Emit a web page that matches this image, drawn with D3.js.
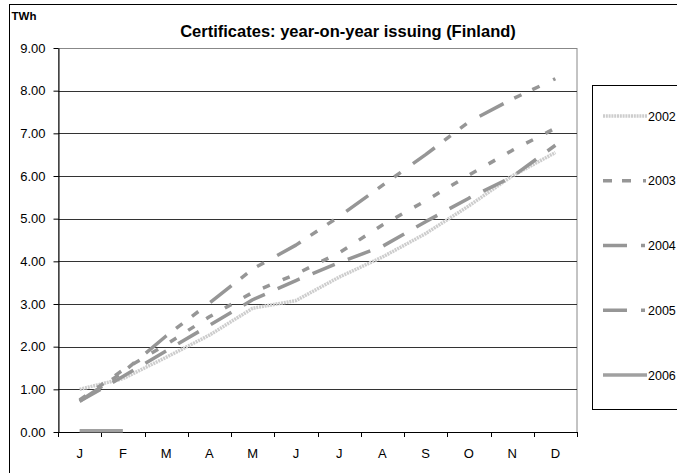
<!DOCTYPE html>
<html>
<head>
<meta charset="utf-8">
<script src="https://cdn.jsdelivr.net/npm/d3@7"></script>
<style>
  html, body { margin: 0; padding: 0; background: #fff; }
  svg { display: block; font-family: "Liberation Sans", Arial, sans-serif; }
</style>
</head>
<body>
<svg id="chart" width="677" height="473"></svg>
<script>
// ---- data ----
const monthLabels = ["J","F","M","A","M","J","J","A","S","O","N","D"];
const yTicks = [0,1,2,3,4,5,6,7,8,9];
const seriesNames = ["2002","2003","2004","2005","2006"];
const s2002 = [1.00,1.25,1.75,2.27,2.90,3.08,3.63,4.10,4.65,5.30,6.00,6.55];
const s2003 = [0.75,1.45,2.05,2.70,3.27,3.70,4.20,4.85,5.42,6.02,6.60,7.12];
const s2004 = [0.72,1.30,1.90,2.50,3.10,3.55,3.97,4.35,4.93,5.48,5.98,6.72];
const s2005 = [0.72,1.40,2.25,3.02,3.82,4.38,5.05,5.78,6.50,7.27,7.80,8.28];
const s2006 = [0.03,0.03];
const titleText = "Certificates: year-on-year issuing (Finland)";
const unitText = "TWh";

// ---- styles ----
const styles = [
  {color:"#cdcdcd", dash:"2,0.8", width:3.5},
  {color:"#969696", dash:"7.5,14", width:3.5},
  {color:"#969696", dash:"24,14", width:3.5},
  {color:"#969696", dash:"27,12,8,12,8,15", width:3.5},
  {color:"#a0a0a0", dash:null, width:3.5}
];
const legendDash = ["2,0.8","9,10,9,12,3,20","24,14,4,20","24,14,4,20",null];

const seriesData = [s2002, s2003, s2004, s2005, s2006];

const svg = d3.select("#chart");

// outer chart border
svg.append("rect").attr("x",9.5).attr("y",4.5).attr("width",720).attr("height",520)
  .attr("fill","#fff").attr("stroke","#000").attr("stroke-width",1);

const pLeft = 58, pRight = 577, pTop = 48, pBottom = 432;

const x = d3.scaleBand().domain(d3.range(monthLabels.length)).range([pLeft, pRight]).padding(0);
const y = d3.scaleLinear().domain([0, 9]).range([pBottom, pTop]);

// plot area border (gray)
svg.append("rect").attr("x",pLeft+0.5).attr("y",pTop+0.5)
  .attr("width",pRight-pLeft-0.5).attr("height",pBottom-pTop)
  .attr("fill","none").attr("stroke","#888").attr("stroke-width",1);

// gridlines
svg.append("g").selectAll("line").data(yTicks.filter(d => d > 0 && d < 9)).join("line")
  .attr("x1",pLeft).attr("x2",pRight)
  .attr("y1",d => Math.round(y(d))+0.5).attr("y2",d => Math.round(y(d))+0.5)
  .attr("stroke","#333").attr("stroke-width",1);

// y axis
const yAxis = d3.axisLeft(y).tickValues(yTicks).tickFormat(d3.format(".2f"))
  .tickSize(5).tickPadding(8).tickSizeOuter(0);
const gy = svg.append("g").attr("transform",`translate(${pLeft+0.5},0)`).call(yAxis);
gy.select(".domain").attr("stroke","#000");
gy.selectAll(".tick line").attr("stroke","#000");
gy.selectAll("text").attr("font-size","13px").attr("fill","#000")
  .attr("font-family","'Liberation Sans', Arial, sans-serif");

// x axis (labels at centres)
const xAxis = d3.axisBottom(x).tickFormat(i => monthLabels[i]).tickSize(0).tickPadding(16.5);
const gx = svg.append("g").attr("transform",`translate(0,${pBottom+0.5})`).call(xAxis);
gx.select(".domain").remove();
gx.selectAll("text").attr("font-size","13px").attr("fill","#000")
  .attr("font-family","'Liberation Sans', Arial, sans-serif");
svg.append("line").attr("x1",pLeft).attr("x2",pRight+1)
  .attr("y1",pBottom+0.5).attr("y2",pBottom+0.5).attr("stroke","#000");
// boundary ticks
svg.append("g").selectAll("line").data(d3.range(monthLabels.length+1)).join("line")
  .attr("x1",i => Math.round(x.range()[0] + i*x.step())+0.5)
  .attr("x2",i => Math.round(x.range()[0] + i*x.step())+0.5)
  .attr("y1",pBottom).attr("y2",pBottom+5).attr("stroke","#000");

// series lines
const line = d3.line().x((d,i) => x(i) + x.bandwidth()/2).y(d => y(d));
seriesData.forEach((s, k) => {
  svg.append("path").datum(s)
    .attr("d", line)
    .attr("fill","none")
    .attr("stroke", styles[k].color)
    .attr("stroke-width", styles[k].width)
    .attr("stroke-dasharray", styles[k].dash)
    .attr("stroke-linecap","butt")
    .attr("stroke-linejoin","round");
});

// title and unit
svg.append("text").attr("x",348).attr("y",36.5).attr("text-anchor","middle")
  .attr("font-size","16.5px").attr("font-weight","bold").attr("fill","#000").text(titleText);
svg.append("text").attr("x",11.5).attr("y",20).attr("font-size","11.5px")
  .attr("font-weight","bold").attr("fill","#000").text(unitText);

// legend
svg.append("rect").attr("x",592.5).attr("y",85.5).attr("width",120).attr("height",324)
  .attr("fill","#fff").attr("stroke","#000").attr("stroke-width",1);
const legY = d3.scalePoint().domain(seriesNames).range([116, 375]);
seriesNames.forEach((n, k) => {
  const cy = legY(n);
  svg.append("line").attr("x1",603).attr("x2",647).attr("y1",cy).attr("y2",cy)
    .attr("stroke", styles[k].color).attr("stroke-width", styles[k].width)
    .attr("stroke-dasharray", legendDash[k]);
  svg.append("text").attr("x",648).attr("y",cy+4.5).attr("font-size","12.5px")
    .attr("fill","#000").text(n);
});
</script>
</body>
</html>
